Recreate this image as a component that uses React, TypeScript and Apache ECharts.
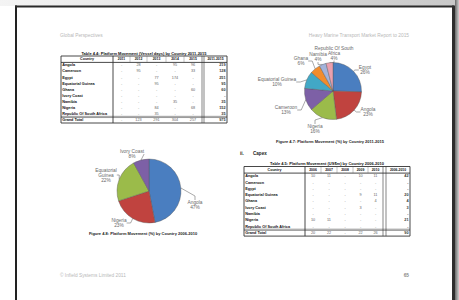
import React, { useEffect, useRef } from 'react';
import * as echarts from 'echarts';

// ---------- DATA ----------
const pie1Categories = ['Egypt', 'Angola', 'Nigeria', 'Cameroon', 'Equatorial Guinea', 'Ghana', 'Namibia', 'Republic Of South Africa'];
const pie1Labels = ['Egypt', 'Angola', 'Nigeria', 'Cameroon', 'Equatorial Guinea', 'Ghana', 'Namibia', 'Republic Of South\nAfrica'];
const pie1Values = [26, 23, 16, 13, 10, 6, 4, 4];

const pie2Categories = ['Angola', 'Nigeria', 'Equatorial Guinea', 'Ivory Coast'];
const pie2Labels = ['Angola', 'Nigeria', 'Equatorial\nGuinea', 'Ivory Coast'];
const pie2Values = [47, 23, 22, 8];

const tableCountries = ['Angola', 'Cameroon', 'Egypt', 'Equatorial Guinea', 'Ghana', 'Ivory Coast', 'Namibia', 'Nigeria', 'Republic Of South Africa', 'Grand Total'];
const table1Columns = ['2011', '2012', '2013', '2014', '2015', '2011-2015'];
const table1Values = [
  ['-', '28', '-', '95', '96', '219'],
  ['-', '95', '-', '-', '33', '128'],
  ['-', '-', '77', '174', '-', '251'],
  ['-', '-', '95', '-', '-', '95'],
  ['-', '-', '-', '-', '60', '60'],
  ['-', '-', '-', '-', '-', '-'],
  ['-', '-', '-', '35', '-', '35'],
  ['-', '-', '84', '-', '68', '152'],
  ['-', '-', '35', '-', '-', '35'],
  ['-', '123', '291', '304', '257', '975'],
];
const table2Columns = ['2006', '2007', '2008', '2009', '2010', '2006-2010'];
const table2Values = [
  ['10', '11', '-', '10', '11', '42'],
  ['-', '-', '-', '-', '-', '-'],
  ['-', '-', '-', '-', '-', '-'],
  ['-', '-', '-', '9', '11', '20'],
  ['-', '-', '-', '-', '4', '4'],
  ['-', '-', '-', '3', '-', '3'],
  ['-', '-', '-', '-', '-', '-'],
  ['10', '11', '-', '-', '-', '21'],
  ['-', '-', '-', '-', '-', '-'],
  ['20', '22', '-', '22', '26', '90'],
];

const headerLeft = 'Global Perspectives';
const headerRight = 'Heavy Marine Transport Market Report to 2015';
const footerLeft = '\u00A9 Infield Systems Limited 2011';
const pageNumber = '65';
const table1Title = 'Table 4.4: Platform Movement (Vessel days) by Country 2011-2015';
const table2Title = 'Table 4.5: Platform Movement (US$m) by Country 2006-2010';
const fig1Caption = 'Figure 4.7: Platform Movement (%) by Country 2011-2015';
const fig2Caption = 'Figure 4.8: Platform Movement (%) by Country 2006-2010';
const sectionNo = 'ii.';
const sectionTitle = 'Capex';

// ---------- LAYOUT / STYLE ----------
const FONT = '"Liberation Sans", Arial, sans-serif';
const pie1Colors = ['#4A7EC0', '#C0433F', '#9BBB4A', '#7D60A6', '#42A8C6', '#F28C2C', '#A3B3DA', '#EBA0AE'];
const pie2Colors = ['#4A7EC0', '#C0433F', '#9BBB4A', '#7D60A6'];
const pie1Center = [333, 91];
const pie1Radius = 28.5;
const pie2Center = [149, 191];
const pie2Radius = 32;
const pie1LabelPos = [[365, 70], [368, 112], [315, 129], [286, 110], [277, 82], [301, 61], [318, 57], [334, 53]];
const pie2LabelPos = [[195, 205], [119, 223], [106, 175], [132, 154]];

function txt(x: number, y: number, text: string, size: number, fill: string, align = 'left', weight = 'normal', vAlign = 'middle') {
  return {
    type: 'text', x, y, silent: true,
    style: {
      text, fill, fontSize: size, fontWeight: weight, fontFamily: FONT,
      align, textAlign: align, verticalAlign: vAlign, textVerticalAlign: vAlign,
    },
  };
}
function ln(x1: number, y1: number, x2: number, y2: number, w: number, c = '#333') {
  return { type: 'line', silent: true, shape: { x1, y1, x2, y2 }, style: { stroke: c, lineWidth: w } };
}

function buildTable(cols: number[], y0: number, headerH: number, rowH: number, columns: string[], values: string[][], title: string) {
  const els: any[] = [];
  const x0 = cols[0];
  const x1 = cols[cols.length - 1];
  const nRows = tableCountries.length;
  const y1 = y0 + headerH + rowH * nRows;
  els.push(txt((x0 + x1) / 2, y0 - 3, title, 4, '#111', 'center', 'bold'));
  els.push({ type: 'rect', silent: true, shape: { x: x0, y: y0, width: x1 - x0, height: y1 - y0 }, style: { fill: '#fff', stroke: '#333', lineWidth: 0.9 } });
  els.push(ln(x0, y0 + headerH, x1, y0 + headerH, 0.9));
  const gtY = y0 + headerH + rowH * (nRows - 1);
  els.push(ln(x0, gtY - 0.6, x1, gtY - 0.6, 0.5));
  els.push(ln(x0, gtY + 0.6, x1, gtY + 0.6, 0.5));
  els.push(ln(cols[1], y0, cols[1], y1, 0.9));
  els.push(ln(cols[6], y0, cols[6], y1, 0.6));
  els.push(ln(cols[7], y0, cols[7], y1, 0.6));
  for (let i = 2; i <= 5; i++) els.push(ln(cols[i], y0, cols[i], y0 + headerH, 0.4, '#666'));
  els.push(txt((cols[0] + cols[1]) / 2, y0 + headerH / 2, 'Country', 3.6, '#111', 'center', 'bold'));
  columns.forEach((c, j) => {
    const ci = j < 5 ? j + 1 : 7;
    els.push(txt((cols[ci] + cols[ci + 1]) / 2, y0 + headerH / 2, c, 3.4, '#111', 'center', 'bold'));
  });
  tableCountries.forEach((name, i) => {
    const cy = y0 + headerH + rowH * i + rowH / 2;
    els.push(txt(x0 + 1.2, cy, name, 3.8, '#111', 'left', 'bold'));
    values[i].forEach((v, j) => {
      if (j < 5) {
        els.push(txt((cols[j + 1] + cols[j + 2]) / 2, cy, v, 3.8, '#666', 'center'));
      } else {
        els.push(txt(cols[8] - 1.5, cy, v, 3.8, '#333', 'right', 'bold'));
      }
    });
  });
  return els;
}

function makeLabelLayout(pos: number[][]) {
  return (p: any) => ({ x: pos[p.dataIndex][0], y: pos[p.dataIndex][1], align: 'center', verticalAlign: 'middle' });
}

export default function App() {
  const ref = useRef<HTMLDivElement>(null);
  useEffect(() => {
    if (!ref.current) return;
    const chart = echarts.init(ref.current, undefined, { renderer: 'svg' });

    const graphics: any[] = [
      { type: 'rect', silent: true, shape: { x: 0, y: 0, width: 459, height: 6 },
        style: { fill: new echarts.graphic.LinearGradient(0, 0, 1, 0, [{ offset: 0, color: '#f4f4f4' }, { offset: 1, color: '#c8c8c8' }]) } },
      { type: 'rect', silent: true, shape: { x: 455, y: 0, width: 4, height: 300 },
        style: { fill: new echarts.graphic.LinearGradient(0, 0, 1, 0, [{ offset: 0, color: '#6a6a6a' }, { offset: 1, color: '#d0d0d0' }]) } },
      ln(16, 5.5, 16, 300, 2, '#222'),
      ln(15, 6.5, 454, 6.5, 2, '#2a2a2a'),
      ln(453.5, 5.5, 453.5, 300, 3, '#2e2e2e'),
      txt(60, 35, headerLeft, 4.8, '#b8b8b8'),
      txt(409, 35, headerRight, 4.8, '#b8b8b8', 'right'),
      txt(60, 275, footerLeft, 4.8, '#b8b8b8'),
      txt(409, 275, pageNumber, 4.8, '#888', 'right', 'bold'),
      txt(330, 141, fig1Caption, 4, '#222', 'center', 'bold'),
      txt(143, 233, fig2Caption, 4, '#222', 'center', 'bold'),
      txt(240, 153, sectionNo, 4.6, '#222', 'left', 'bold'),
      txt(253, 153, sectionTitle, 4.6, '#222', 'left', 'bold'),
      ...buildTable([61, 113, 130, 147, 166, 184, 202, 204, 227], 56, 6.4, 6.06, table1Columns, table1Values, table1Title),
      ...buildTable([244, 305, 321, 337, 353, 368, 383, 386, 410], 166.5, 6.6, 6.3, table2Columns, table2Values, table2Title),
    ];

    const labelCommon = {
      show: true,
      position: 'outside',
      color: '#6a6a6a',
      fontSize: 4.8,
      lineHeight: 5,
      fontFamily: FONT,
      align: 'center',
    };
    const lineCommon = { show: true, length: 4, length2: 4, lineStyle: { color: '#707070', width: 0.6 } };

    chart.setOption({
      animation: false,
      backgroundColor: '#ffffff',
      graphic: { elements: graphics },
      series: [
        {
          type: 'pie',
          center: pie1Center,
          radius: pie1Radius,
          startAngle: 90,
          clockwise: true,
          itemStyle: { borderColor: '#555', borderWidth: 0.4 },
          label: { ...labelCommon, formatter: (p: any) => `${pie1Labels[p.dataIndex]}\n${p.value}%` },
          labelLine: lineCommon,
          labelLayout: makeLabelLayout(pie1LabelPos),
          emphasis: { disabled: true },
          data: pie1Categories.map((n, i) => ({ name: n, value: pie1Values[i], itemStyle: { color: pie1Colors[i] } })),
        },
        {
          type: 'pie',
          center: pie2Center,
          radius: pie2Radius,
          startAngle: 90,
          clockwise: true,
          itemStyle: { borderColor: '#555', borderWidth: 0.4 },
          label: { ...labelCommon, formatter: (p: any) => `${pie2Labels[p.dataIndex]}\n${p.value}%` },
          labelLine: lineCommon,
          labelLayout: makeLabelLayout(pie2LabelPos),
          emphasis: { disabled: true },
          data: pie2Categories.map((n, i) => ({ name: n, value: pie2Values[i], itemStyle: { color: pie2Colors[i] } })),
        },
      ],
    });
    return () => chart.dispose();
  }, []);
  return <div ref={ref} style={{ position: 'fixed', left: 0, top: 0, width: 459, height: 300 }} />;
}
